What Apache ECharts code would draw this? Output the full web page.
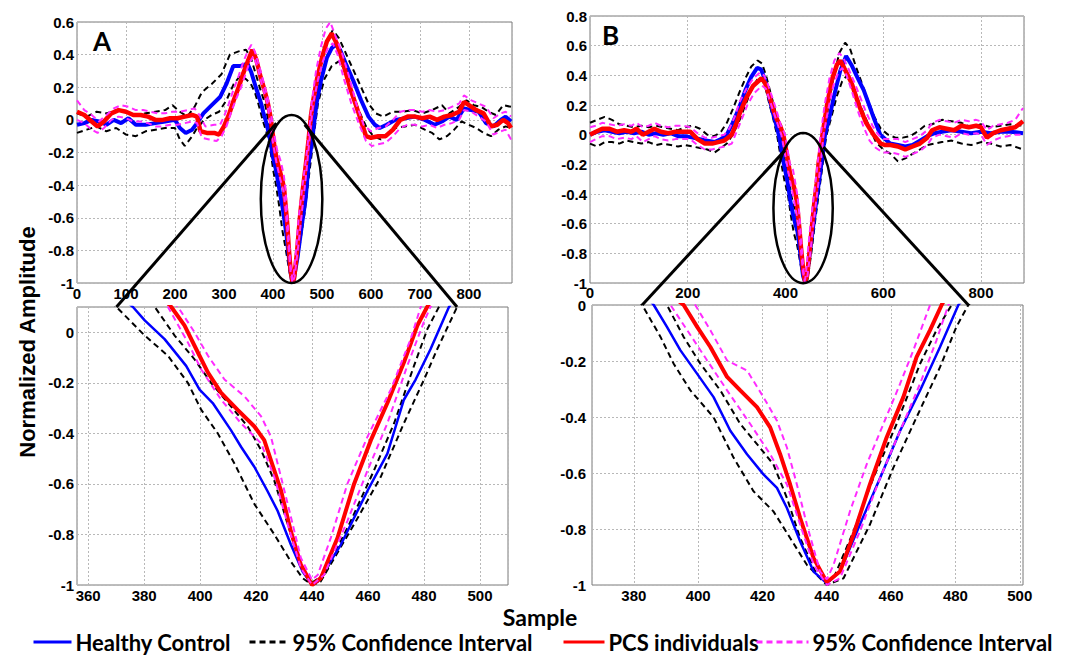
<!DOCTYPE html>
<html><head><meta charset="utf-8">
<script src="https://cdn.jsdelivr.net/npm/echarts@6/dist/echarts.min.js"></script>
<style>html,body{margin:0;padding:0;background:#fff}#c{width:1083px;height:655px}</style>
</head><body><div id="c"></div><script>
// ---------- Panel A data: [sample, amplitude] ----------
const hcA = [[0,-0.03],[15,-0.02],[30,0.0],[45,-0.01],[60,-0.03],[75,0.0],[90,-0.02],[105,0.01],[120,-0.03],[140,-0.03],[160,-0.02],[180,-0.01],[200,0.0],[210,-0.05],[222,-0.08],[235,-0.06],[245,-0.02],[258,0.04],[275,0.09],[292,0.14],[305,0.22],[319,0.33],[333,0.33],[348,0.345],[356,0.29],[365,0.2],[376,0.1],[380.2,0.047],[387.3,-0.027],[395,-0.133],[399.8,-0.227],[404.5,-0.28],[411,-0.387],[414.6,-0.453],[419.4,-0.533],[424,-0.627],[427.7,-0.707],[432.4,-0.84],[436.6,-0.947],[440,-1],[442,-0.987],[450.3,-0.84],[459.8,-0.627],[466.9,-0.48],[472.8,-0.267],[477,-0.187],[482.3,-0.067],[488.9,0.1],[498,0.24],[510,0.38],[520,0.44],[528,0.46],[537,0.43],[548,0.35],[564,0.24],[580,0.12],[595,0.02],[608,-0.03],[618,-0.05],[632,-0.03],[650,0.0],[670,0.01],[690,0.02],[710,0.0],[730,-0.03],[745,-0.01],[760,0.02],[775,0.0],[790,0.07],[805,0.06],[820,0.05],[835,-0.02],[850,-0.04],[865,0.0],[875,0.02],[886,-0.01]];
const hcA_hi = [[0,0.04],[20,0.02],[40,0.05],[60,0.04],[80,0.06],[100,0.05],[120,0.03],[140,0.04],[160,0.05],[180,0.06],[195,0.09],[210,0.05],[225,0.02],[240,0.08],[255,0.17],[275,0.22],[295,0.28],[312,0.4],[330,0.42],[345,0.43],[355,0.38],[365,0.28],[375,0.18],[383.8,0.1],[390.9,-0.013],[398,-0.107],[403.9,-0.2],[411,-0.293],[417,-0.373],[421.8,-0.467],[426.5,-0.587],[431.3,-0.76],[436,-0.92],[440,-0.99],[444.3,-0.96],[453.8,-0.747],[462.1,-0.547],[469.3,-0.36],[476.4,-0.133],[481.2,0.013],[485.3,0.1],[495,0.3],[510,0.48],[522,0.55],[535,0.5],[550,0.4],[565,0.3],[580,0.2],[595,0.1],[610,0.04],[625,0.02],[645,0.05],[665,0.05],[685,0.06],[705,0.04],[725,0.06],[745,0.09],[760,0.04],[780,0.08],[795,0.12],[810,0.09],[825,0.08],[840,0.05],[855,0.03],[870,0.09],[886,0.08]];
const hcA_lo = [[0,-0.08],[20,-0.06],[40,-0.04],[60,-0.07],[80,-0.05],[100,-0.09],[120,-0.1],[140,-0.07],[160,-0.06],[180,-0.05],[200,-0.05],[210,-0.12],[220,-0.16],[235,-0.1],[245,-0.05],[260,0.0],[275,0.03],[290,0.05],[305,0.12],[320,0.22],[333,0.27],[345,0.25],[355,0.22],[363,0.17],[370.1,0.1],[380.2,-0.013],[388.5,-0.093],[395.6,-0.2],[400.4,-0.307],[406.3,-0.4],[412.3,-0.52],[419.4,-0.68],[426.5,-0.8],[432.4,-0.907],[436.6,-0.973],[440,-1],[443,-0.987],[455,-0.76],[464.5,-0.573],[472.8,-0.36],[480,-0.187],[484.7,-0.067],[491.8,0.1],[505,0.25],[520,0.33],[535,0.36],[548,0.3],[560,0.18],[575,0.06],[590,-0.04],[605,-0.1],[620,-0.12],[635,-0.08],[650,-0.05],[670,-0.04],[690,-0.03],[710,-0.06],[725,-0.08],[740,-0.12],[755,-0.1],[770,-0.06],[785,-0.01],[800,-0.03],[815,-0.05],[830,-0.08],[845,-0.1],[860,-0.06],[875,-0.04],[886,-0.05]];
const pcsA = [[0,0.05],[15,0.03],[30,-0.01],[42,-0.04],[55,-0.01],[70,0.04],[85,0.06],[100,0.05],[115,0.03],[130,0.03],[145,0.02],[160,0.0],[175,0.0],[190,0.01],[205,0.01],[220,0.02],[235,0.03],[245,0.02],[252,-0.07],[265,-0.08],[280,-0.08],[290,-0.09],[300,-0.04],[310,0.03],[320,0.12],[330,0.2],[340,0.29],[350,0.37],[358,0.43],[366,0.37],[375,0.26],[383,0.18],[389.7,0.1],[394.4,0.027],[399.2,-0.08],[402.8,-0.16],[407.5,-0.24],[413.4,-0.307],[419.4,-0.373],[422.9,-0.427],[425.3,-0.507],[428.9,-0.627],[432.4,-0.787],[436,-0.92],[440,-1],[443.1,-0.973],[449.1,-0.813],[455,-0.6],[461,-0.427],[466.9,-0.28],[472.8,-0.12],[477.6,0.027],[481.1,0.1],[490,0.25],[500,0.38],[510,0.48],[520,0.53],[530,0.47],[540,0.38],[557,0.2],[575,0.04],[590,-0.1],[600,-0.11],[615,-0.1],[630,-0.1],[645,-0.06],[660,0.0],[675,0.02],[690,0.02],[705,0.01],[720,0.02],[735,0.0],[750,0.02],[765,0.03],[780,0.05],[790,0.11],[800,0.09],[815,0.06],[830,0.04],[845,-0.04],[858,-0.03],[870,0.0],[880,-0.02],[886,-0.05]];
const pcsA_hi = [[0,0.12],[15,0.06],[30,0.03],[45,-0.01],[60,0.03],[75,0.07],[90,0.09],[105,0.08],[120,0.06],[135,0.06],[150,0.05],[165,0.04],[180,0.04],[195,0.05],[210,0.05],[225,0.06],[240,0.07],[250,0.03],[262,-0.04],[280,-0.03],[292,-0.03],[300,0.02],[310,0.1],[320,0.19],[330,0.27],[340,0.36],[350,0.43],[356,0.46],[363,0.42],[372,0.33],[382,0.22],[392.1,0.1],[398,0],[402.8,-0.093],[408.7,-0.187],[415.8,-0.253],[421.8,-0.333],[425.3,-0.413],[427.7,-0.52],[431.3,-0.68],[436,-0.893],[440,-0.98],[442,-0.96],[446.7,-0.813],[452.6,-0.6],[459.8,-0.413],[468.1,-0.227],[475.2,-0.027],[478.8,0.1],[488,0.3],[498,0.45],[508,0.56],[517,0.6],[527,0.52],[540,0.42],[555,0.27],[570,0.1],[585,-0.03],[600,-0.07],[615,-0.05],[630,-0.04],[645,0.0],[660,0.05],[675,0.06],[690,0.06],[705,0.05],[720,0.06],[735,0.05],[750,0.06],[765,0.08],[780,0.1],[790,0.15],[805,0.12],[820,0.1],[835,0.08],[850,0.01],[865,0.04],[875,0.05],[886,0.02]];
const pcsA_lo = [[0,0.0],[15,-0.02],[30,-0.06],[42,-0.08],[55,-0.05],[70,0.0],[85,0.02],[100,0.01],[115,-0.01],[130,-0.01],[145,-0.02],[160,-0.04],[175,-0.04],[190,-0.03],[205,-0.03],[220,-0.02],[235,-0.01],[245,-0.02],[255,-0.11],[270,-0.12],[285,-0.13],[295,-0.1],[305,-0.04],[315,0.05],[325,0.13],[335,0.2],[345,0.29],[352,0.35],[360,0.39],[368,0.33],[378,0.21],[388.5,0.1],[395.6,-0.04],[400.4,-0.147],[407.5,-0.267],[414.6,-0.36],[421.8,-0.44],[426.5,-0.573],[431.3,-0.76],[436,-0.933],[440,-1],[444.3,-0.96],[452.6,-0.747],[459.8,-0.547],[466.9,-0.36],[474,-0.133],[479.9,0.04],[482.3,0.1],[492,0.25],[502,0.36],[512,0.44],[522,0.47],[532,0.4],[545,0.25],[560,0.1],[575,-0.02],[590,-0.13],[602,-0.16],[615,-0.15],[630,-0.14],[645,-0.1],[660,-0.05],[675,-0.03],[690,-0.03],[705,-0.04],[720,-0.03],[735,-0.05],[750,-0.03],[765,-0.02],[780,0.0],[790,0.06],[805,0.05],[820,0.02],[835,-0.01],[850,-0.09],[865,-0.07],[875,-0.06],[886,-0.12]];

// ---------- Panel B data ----------
const hcB = [[0,0.0],[15,0.02],[30,0.03],[45,0.02],[60,0.01],[75,0.02],[90,0.01],[105,0.02],[120,0.0],[135,0.01],[150,0.0],[165,0.01],[180,-0.01],[195,-0.01],[210,-0.02],[225,-0.03],[240,-0.04],[255,-0.05],[268,-0.03],[280,0.0],[292,0.08],[305,0.18],[318,0.3],[330,0.39],[342,0.45],[350,0.44],[358,0.37],[366,0.26],[374,0.15],[380,0.08],[386.2,0.0],[390.3,-0.078],[394.5,-0.162],[399.7,-0.246],[404.8,-0.329],[410,-0.449],[415.2,-0.533],[420.3,-0.605],[424.5,-0.653],[427.6,-0.725],[431.7,-0.844],[435.9,-0.952],[440,-0.994],[444.1,-0.952],[450.3,-0.784],[456.6,-0.617],[462.8,-0.449],[469,-0.305],[475.2,-0.15],[480.9,0.0],[490,0.12],[500,0.27],[512,0.43],[524,0.53],[535,0.47],[548,0.38],[560,0.3],[570,0.21],[582,0.1],[594,0.0],[614,-0.06],[630,-0.07],[645,-0.08],[660,-0.07],[675,-0.04],[690,-0.01],[705,0.01],[720,0.02],[740,0.03],[760,0.02],[780,0.01],[800,0.02],[820,0.01],[840,0.02],[860,0.02],[886,0.01]];
const hcB_hi = [[0,0.08],[15,0.1],[30,0.12],[45,0.1],[60,0.07],[75,0.06],[90,0.05],[105,0.06],[120,0.05],[135,0.06],[150,0.05],[165,0.04],[180,0.03],[195,0.05],[210,0.06],[225,0.04],[240,0.0],[255,-0.01],[268,0.02],[280,0.08],[292,0.17],[305,0.28],[318,0.38],[330,0.46],[343,0.5],[352,0.48],[360,0.4],[368,0.3],[376,0.2],[384,0.09],[390.3,0.0],[395.5,-0.114],[400.7,-0.21],[406.9,-0.305],[413.1,-0.425],[418.3,-0.497],[423.4,-0.569],[427.6,-0.689],[431.7,-0.832],[436.9,-0.964],[440,-0.99],[442.1,-0.976],[448.3,-0.808],[454.5,-0.617],[461.7,-0.425],[469,-0.21],[474.1,-0.09],[478.8,0.0],[488,0.2],[498,0.38],[510,0.55],[522,0.62],[532,0.58],[545,0.45],[558,0.33],[570,0.22],[582,0.12],[595,0.04],[610,0.0],[625,-0.02],[640,-0.02],[655,-0.01],[670,0.02],[685,0.06],[700,0.07],[720,0.1],[740,0.09],[760,0.08],[780,0.05],[800,0.07],[820,0.05],[840,0.06],[860,0.07],[886,0.06]];
const hcB_lo = [[0,-0.06],[15,-0.08],[30,-0.05],[45,-0.05],[60,-0.06],[75,-0.04],[90,-0.05],[105,-0.06],[120,-0.05],[135,-0.07],[150,-0.06],[165,-0.07],[180,-0.08],[195,-0.07],[210,-0.08],[225,-0.09],[240,-0.1],[255,-0.12],[268,-0.09],[280,-0.06],[292,0.0],[305,0.09],[318,0.2],[330,0.3],[342,0.37],[350,0.38],[358,0.33],[366,0.22],[374,0.12],[382.6,0.0],[388.3,-0.114],[392.4,-0.21],[397.6,-0.305],[404.8,-0.401],[411,-0.545],[417.2,-0.665],[423.4,-0.737],[428.6,-0.832],[433.8,-0.928],[440,-1],[445.2,-0.976],[453.4,-0.784],[460.7,-0.581],[467.9,-0.401],[475.2,-0.222],[480.3,-0.078],[484,0.0],[494,0.12],[505,0.26],[516,0.36],[526,0.4],[536,0.35],[548,0.24],[560,0.14],[572,0.05],[585,-0.05],[600,-0.1],[615,-0.13],[630,-0.18],[645,-0.16],[660,-0.13],[675,-0.1],[690,-0.07],[705,-0.06],[720,-0.05],[740,-0.04],[760,-0.06],[780,-0.07],[800,-0.05],[820,-0.06],[840,-0.08],[860,-0.07],[886,-0.1]];
const pcsB = [[0,0.0],[12,0.02],[25,0.04],[40,0.04],[55,0.02],[70,0.03],[85,0.02],[95,0.04],[108,0.0],[120,0.02],[132,0.04],[145,0.02],[160,0.01],[175,0.02],[190,0.02],[205,0.02],[220,-0.03],[235,-0.06],[250,-0.06],[262,-0.05],[275,-0.04],[290,0.0],[300,0.08],[307,0.15],[320,0.25],[334,0.33],[351,0.38],[358,0.35],[366,0.27],[375,0.17],[383,0.1],[389,0.06],[395.5,0.0],[399.7,-0.078],[403.8,-0.15],[409,-0.257],[413.1,-0.305],[418.3,-0.365],[422.4,-0.437],[425.5,-0.533],[428.6,-0.641],[431.7,-0.76],[435.9,-0.904],[440,-0.99],[444.1,-0.952],[448.3,-0.82],[453.4,-0.641],[458.6,-0.473],[463.8,-0.329],[467.9,-0.186],[472.1,-0.09],[475.7,0.0],[485,0.2],[495,0.37],[505,0.47],[512,0.5],[520,0.45],[535,0.35],[550,0.2],[565,0.08],[580,0.0],[595,-0.06],[604,-0.07],[615,-0.07],[630,-0.08],[645,-0.1],[660,-0.08],[675,-0.06],[690,-0.02],[700,0.03],[715,0.05],[730,0.04],[745,0.03],[760,0.06],[775,0.05],[790,0.06],[800,0.05],[812,-0.02],[825,0.01],[840,0.03],[855,0.04],[870,0.05],[886,0.09]];
const pcsB_hi = [[0,0.05],[12,0.06],[25,0.08],[40,0.07],[55,0.06],[70,0.07],[85,0.06],[95,0.08],[108,0.05],[120,0.06],[132,0.08],[145,0.06],[160,0.05],[175,0.06],[190,0.06],[205,0.05],[220,0.01],[235,-0.02],[250,-0.02],[262,-0.01],[275,0.0],[285,0.04],[296,0.12],[306,0.22],[320,0.31],[334,0.38],[348,0.42],[356,0.4],[364,0.34],[372,0.26],[380,0.18],[390,0.07],[399.1,0.0],[403.8,-0.09],[409,-0.198],[415.2,-0.234],[420.3,-0.329],[424.5,-0.413],[427.6,-0.509],[430.7,-0.641],[433.8,-0.784],[437.9,-0.952],[440,-0.98],[442.1,-0.928],[447.2,-0.737],[452.4,-0.569],[457.6,-0.425],[462.8,-0.281],[466.9,-0.162],[472.1,0.0],[480,0.2],[490,0.38],[500,0.5],[510,0.55],[518,0.52],[528,0.45],[540,0.36],[552,0.26],[565,0.15],[578,0.06],[590,0.0],[600,-0.03],[615,-0.03],[630,-0.03],[645,-0.05],[660,-0.03],[675,-0.01],[690,0.03],[700,0.08],[715,0.1],[730,0.09],[745,0.08],[760,0.1],[775,0.09],[790,0.1],[800,0.09],[812,0.03],[825,0.06],[840,0.07],[855,0.08],[870,0.1],[886,0.18]];
const pcsB_lo = [[0,-0.05],[12,-0.03],[25,-0.01],[40,-0.01],[55,-0.03],[70,-0.02],[85,-0.03],[95,-0.01],[108,-0.05],[120,-0.03],[132,-0.01],[145,-0.03],[160,-0.04],[175,-0.03],[190,-0.03],[205,-0.03],[220,-0.07],[235,-0.1],[250,-0.1],[262,-0.09],[275,-0.08],[290,-0.06],[300,0.02],[310,0.1],[322,0.2],[336,0.28],[352,0.33],[360,0.31],[368,0.23],[376,0.15],[384,0.07],[391.4,0.0],[396.6,-0.09],[402.8,-0.198],[409,-0.305],[416.2,-0.425],[422.4,-0.533],[427.6,-0.641],[431.7,-0.784],[435.9,-0.928],[440,-1],[444.1,-0.976],[450.3,-0.808],[456.6,-0.617],[462.8,-0.449],[469,-0.281],[474.1,-0.126],[477.8,0.0],[488,0.18],[498,0.33],[508,0.42],[516,0.45],[525,0.4],[535,0.3],[548,0.16],[560,0.05],[572,-0.04],[585,-0.09],[600,-0.12],[615,-0.12],[630,-0.13],[645,-0.15],[660,-0.13],[675,-0.11],[690,-0.07],[700,-0.02],[715,0.0],[730,-0.01],[745,-0.02],[760,0.01],[775,0.0],[790,0.01],[800,0.0],[812,-0.07],[825,-0.04],[840,-0.02],[855,-0.01],[870,0.0],[886,0.0]];

// ---------- labels ----------
const legendNames = ['Healthy Control', 'HC 95% Confidence Interval', 'PCS individuals', 'PCS 95% Confidence Interval'];
const panelLabels = ['A', 'B'];
const xTitle = 'Sample';
const yTitle = 'Normalized Amplitude';

// ---------- zoom annotations (data coordinates) ----------
// ellipse: [centerX, centerY, semiX, semiY] in overview axes
const ellipseA = [438, -0.485, 62.8, 0.515];
const ellipseB = [436, -0.495, 60.7, 0.506];
// line start points on ellipse (overview axes) and end points (zoom axes)
const linesA = [[[407, -0.02], [370.1, 0.1]], [[465, -0.03], [491.8, 0.1]]];
const linesB = [[[399, -0.106], [382.6, 0]], [[477.6, -0.083], [484, 0]]];

const chart = echarts.init(document.getElementById('c'), null, {renderer: 'svg'});

const LBL = {color: '#000', fontWeight: 'bold', fontSize: 15, fontFamily: 'Liberation Sans, Arial, sans-serif'};
const SPLIT = {show: true, lineStyle: {type: [2, 2], color: '#b8b8b8', width: 1}};

function yFmt(v) { const r = Math.round(v * 10); if (Math.abs(v * 10 - r) > 1e-6 || r % 2 !== 0) return ''; return String(r / 10); }
function xFmt(step) { return v => (Math.abs(v % step) < 1e-6 ? String(v) : ''); }

const grids = [
  {left: 77, top: 22, width: 435, height: 261},
  {left: 590, top: 16, width: 434, height: 267},
  {left: 77, top: 307, width: 431, height: 278},
  {left: 592, top: 305, width: 431, height: 280}
].map(g => Object.assign(g, {show: true, borderColor: '#7a7a7a', borderWidth: 1, backgroundColor: '#fff'}));

function xAx(i, extra, step, margin) {
  return Object.assign({type: 'value', gridIndex: i, axisLine: {show: false}, axisTick: {show: false},
    splitLine: SPLIT, axisLabel: Object.assign({margin: margin, formatter: xFmt(step)}, LBL)}, extra);
}
function yAx(i, extra, margin) {
  return Object.assign({type: 'value', gridIndex: i, axisLine: {show: false}, axisTick: {show: false},
    splitLine: SPLIT, axisLabel: Object.assign({margin: margin, formatter: yFmt}, LBL)}, extra);
}

const xAxes = [
  xAx(0, {min: 0, max: 888, interval: 100}, 100, 3),
  xAx(1, {min: 0, max: 888, interval: 200}, 200, 2),
  xAx(2, {min: 356, max: 510, splitNumber: 8}, 20, 3),
  xAx(3, {min: 367, max: 501, splitNumber: 8}, 20, 3)
];
const yAxes = [
  yAx(0, {min: -1, max: 0.6, interval: 0.2}, 3),
  yAx(1, {min: -1, max: 0.8, interval: 0.2}, 3),
  yAx(2, {min: -1, max: 0.1, interval: 0.2}, 3),
  yAx(3, {min: -1, max: 0, interval: 0.2}, 6)
];

const kinds = [
  {name: legendNames[1], color: '#000000', w: [2, 2], dash: [6, 4], z: 3},
  {name: legendNames[0], color: '#0000ff', w: [4, 2.5], dash: 'solid', z: 4},
  {name: legendNames[2], color: '#ff0000', w: [4.5, 4], dash: 'solid', z: 5},
  {name: legendNames[3], color: '#ff2bff', w: [2, 2], dash: [6, 4], z: 6}
];
const panelData = [
  {hi: hcA_hi, lo: hcA_lo, hc: hcA, pcs: pcsA, phi: pcsA_hi, plo: pcsA_lo},
  {hi: hcB_hi, lo: hcB_lo, hc: hcB, pcs: pcsB, phi: pcsB_hi, plo: pcsB_lo}
];

const series = [];
panelData.forEach((p, pi) => {
  const sets = [[p.hi, p.lo], [p.hc], [p.pcs], [p.phi, p.plo]];
  [0, 1].forEach(view => {
    const axisIdx = view === 0 ? pi : pi + 2;
    kinds.forEach((k, ki) => {
      sets[ki].forEach(d => {
        series.push({type: 'line', name: k.name, data: d, xAxisIndex: axisIdx, yAxisIndex: axisIdx,
          symbol: 'none', smooth: false, clip: true, z: k.z, animation: false,
          lineStyle: {color: k.color, width: k.w[view], type: k.dash},
          itemStyle: {color: k.color}});
      });
    });
  });
});

const legendFont = {color: '#000', fontWeight: 'bold', fontSize: 22, fontFamily: 'Lato, Liberation Sans, sans-serif'};
function leg(name, left, w) {
  return {data: [name], left: left, top: 631, padding: 0, itemWidth: w, itemHeight: 14, itemGap: 0,
    selectedMode: false, itemStyle: {opacity: 0, borderWidth: 0},
    lineStyle: {width: 3},
    textStyle: Object.assign({padding: [0, 0, 0, -1]}, legendFont),
    formatter: n => n.replace(/^(HC|PCS) (?=95%)/, '')};
}

chart.setOption({
  animation: false,
  backgroundColor: '#fff',
  grid: grids,
  xAxis: xAxes,
  yAxis: yAxes,
  series: series,
  legend: [leg(legendNames[0], 32, 38), leg(legendNames[1], 248, 39), leg(legendNames[2], 562, 41), leg(legendNames[3], 755, 52)],
  graphic: [
    {type: 'text', left: 93, top: 28, z: 100, style: {text: panelLabels[0], font: 'bold 26px Lato, Liberation Sans, sans-serif', fill: '#000'}},
    {type: 'text', left: 602, top: 22, z: 100, style: {text: panelLabels[1], font: 'bold 26px Lato, Liberation Sans, sans-serif', fill: '#000'}},
    {type: 'text', x: 540, y: 617, z: 100, style: {text: xTitle, font: 'bold 23px Lato, Liberation Sans, sans-serif', fill: '#000', align: 'center', verticalAlign: 'middle'}},
    {type: 'text', x: 27, y: 342, rotation: Math.PI / 2, z: 100, style: {text: yTitle, font: 'bold 22px Liberation Sans, Arial, sans-serif', fill: '#000', align: 'center', verticalAlign: 'middle'}}
  ]
});

// zoom annotations placed via axis scales
function px(g, pt) { return chart.convertToPixel({gridIndex: g}, pt); }
const extra = [];
[[ellipseA, linesA, 0, 2], [ellipseB, linesB, 1, 3]].forEach(([e, ls, gTop, gBot]) => {
  const c = px(gTop, [e[0], e[1]]);
  const c2 = px(gTop, [e[0] + e[2], e[1] - e[3]]);
  extra.push({type: 'ellipse', z: 100, shape: {cx: c[0], cy: c[1], rx: Math.abs(c2[0] - c[0]), ry: Math.abs(c2[1] - c[1])},
    style: {fill: 'none', stroke: '#000', lineWidth: 2.5}});
  ls.forEach(([s, t]) => {
    const a = px(gTop, s), b = px(gBot, t);
    extra.push({type: 'line', z: 100, shape: {x1: a[0], y1: a[1], x2: b[0], y2: b[1]}, style: {stroke: '#000', lineWidth: 3}});
  });
});
chart.setOption({graphic: extra.map((el, i) => Object.assign({id: 'zoomAnn' + i}, el))});
</script></body></html>
